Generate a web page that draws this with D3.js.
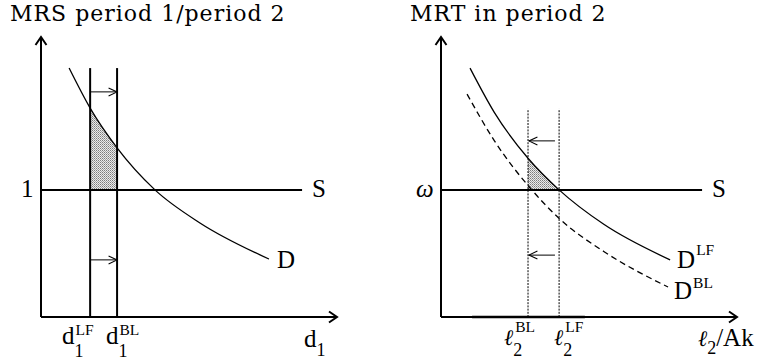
<!DOCTYPE html>
<html>
<head>
<meta charset="utf-8">
<title>MRS / MRT</title>
<script src="https://d3js.org/d3.v7.min.js"></script>
<style>
  body { margin: 0; background: #fff; }
  svg text { font-family: "Liberation Serif", "Times New Roman", serif; fill: #000; }
  svg text.title { font-family: "DejaVu Serif", serif; }
  svg text.ell { font-family: "DejaVu Serif", serif; font-style: italic; }
</style>
</head>
<body>
<script>
// data units: both axes run 0..100
var demandLeft = [[9.5, 88.9], [16.6, 74.6], [25.7, 60.4], [38.5, 45.4], [53.7, 33.6], [77.0, 20.7]];
var demandLF = [[9.8, 88.9], [18, 73.1], [29.4, 56.7], [39.9, 45.4], [55, 33.1], [77.4, 20.4]];
var demandBL = [[8.8, 79.6], [18, 63.0], [31, 45.0], [39.9, 35.2], [55, 23.4], [76.7, 10.7]];
var supplyLevel = 45.4, supplyEnd = 88.2;
var leftCuts = [16.6, 25.7], leftCutTop = 88.9;     // d1 LF, d1 BL
var rightCuts = [29.4, 39.9], rightCutTop = 74.3;   // l2 BL, l2 LF
var leftArrows = [80.4, 20.4];
var rightArrows = [62.9, 22.1];
var titles = ["MRS period 1/period 2", "MRT in period 2"];

var width = 771, height = 362;
var svg = d3.select("body").append("svg")
    .attr("width", width).attr("height", height);

var defs = svg.append("defs");
var pat = defs.append("pattern").attr("id", "dots")
    .attr("width", 2).attr("height", 2).attr("patternUnits", "userSpaceOnUse");
pat.append("rect").attr("width", 2).attr("height", 2).attr("fill", "#ebebeb");
pat.append("rect").attr("width", 1).attr("height", 1).attr("fill", "#7c7c7c");
pat.append("rect").attr("x", 1).attr("y", 1).attr("width", 1).attr("height", 1).attr("fill", "#a4a4a4");

// small open arrow head
defs.append("marker").attr("id", "head")
    .attr("viewBox", "0 0 10 10").attr("refX", 9.5).attr("refY", 5)
    .attr("markerWidth", 10).attr("markerHeight", 10).attr("markerUnits", "userSpaceOnUse")
    .attr("orient", "auto")
  .append("path").attr("d", "M1,1 L9.5,5 L1,9")
    .attr("fill", "none").attr("stroke", "#000").attr("stroke-width", 1.1);

// axis arrow head
defs.append("marker").attr("id", "axhead")
    .attr("viewBox", "0 0 14 14").attr("refX", 12).attr("refY", 7)
    .attr("markerWidth", 14).attr("markerHeight", 14).attr("markerUnits", "userSpaceOnUse")
    .attr("orient", "auto")
  .append("path").attr("d", "M4,1.5 L12,7 L4,12.5")
    .attr("fill", "none").attr("stroke", "#000").attr("stroke-width", 2);

var curve = d3.curveMonotoneX;

function panel(x0, id) {
  var g = svg.append("g");
  var x = d3.scaleLinear().domain([0, 100]).range([x0, x0 + 296]);
  var y = d3.scaleLinear().domain([0, 100]).range([317, 37]);
  var line = d3.line().curve(curve).x(function(d) { return x(d[0]); }).y(function(d) { return y(d[1]); });
  var area = d3.area().curve(curve).x(function(d) { return x(d[0]); })
      .y0(y(supplyLevel)).y1(function(d) { return y(d[1]); });
  return { g: g, x: x, y: y, line: line, area: area, id: id };
}

function seg(p, x1, y1, x2, y2, w) {
  return p.g.append("line")
    .attr("x1", p.x(x1)).attr("y1", p.y(y1)).attr("x2", p.x(x2)).attr("y2", p.y(y2))
    .attr("stroke", "#000").attr("stroke-width", w);
}

function shade(p, data, cuts) {
  defs.append("clipPath").attr("id", "clip" + p.id)
    .append("rect").attr("x", p.x(cuts[0])).attr("width", p.x(cuts[1]) - p.x(cuts[0]))
    .attr("y", 0).attr("height", p.y(supplyLevel));
  p.g.append("path").attr("d", p.area(data)).attr("fill", "url(#dots)")
    .attr("clip-path", "url(#clip" + p.id + ")");
}

function axes(p) {
  seg(p, 0, 0, 0, 100, 2).attr("marker-end", "url(#axhead)");
  seg(p, 0, 0, 100, 0, 2).attr("marker-end", "url(#axhead)");
  seg(p, 0, supplyLevel, supplyEnd, supplyLevel, 2);
}

// text with optional sub / superscript; returns right edge
function label(px, py, base, sub, sup, o) {
  o = o || {};
  var size = o.size || 25;
  var t = svg.append("text").attr("x", px).attr("y", py).attr("font-size", size)
      .attr("class", o.cls || null).text(base);
  var w = t.node().getComputedTextLength();
  var right = px + w;
  if (sub) {
    var s = svg.append("text").attr("x", px + w + (o.subDx || 0)).attr("y", py + (o.subDy || 10))
      .attr("font-size", 18).text(sub);
    right = Math.max(right, px + w + (o.subDx || 0) + s.node().getComputedTextLength());
  }
  if (sup) svg.append("text").attr("x", px + w + (o.supDx || 1)).attr("y", py + (o.supDy || -11))
      .attr("font-size", 15.5).text(sup);
  return right;
}

// ---- left: MRS ----
var L = panel(41, "L");
shade(L, demandLeft, leftCuts);
axes(L);
leftCuts.forEach(function(c) { seg(L, c, 0, c, leftCutTop, 2); });
L.g.append("path").attr("d", L.line(demandLeft)).attr("fill", "none")
  .attr("stroke", "#000").attr("stroke-width", 1.3);
leftArrows.forEach(function(a) {
  seg(L, leftCuts[0], a, leftCuts[1], a, 1).attr("marker-end", "url(#head)");
});
svg.append("text").attr("class", "title").attr("x", 10).attr("y", 21).attr("font-size", 22)
  .attr("letter-spacing", 1).text(titles[0]);
svg.append("text").attr("x", 21).attr("y", 197).attr("font-size", 25).text("1");
svg.append("text").attr("x", L.x(supplyEnd) + 10).attr("y", 197).attr("font-size", 25).text("S");
svg.append("text").attr("x", L.x(demandLeft[5][0]) + 8).attr("y", 268).attr("font-size", 25).text("D");
label(62, 344, "d", "1", "LF", { subDy: 13, supDy: -9 });
label(106, 344, "d", "1", "BL", { subDy: 13, supDy: -9 });
label(304, 347, "d", "1", null, { subDy: 9 });

// ---- right: MRT ----
var R = panel(441, "R");
shade(R, demandLF, rightCuts);
axes(R);
seg(R, 10.5, 0, 48.6, 0, 2.7);
rightCuts.forEach(function(c) {
  seg(R, c, 0, c, rightCutTop, 1).attr("stroke-dasharray", "2,1.2");
});
R.g.append("path").attr("d", R.line(demandLF)).attr("fill", "none")
  .attr("stroke", "#000").attr("stroke-width", 1.3);
R.g.append("path").attr("d", R.line(demandBL)).attr("fill", "none")
  .attr("stroke", "#000").attr("stroke-width", 1.3).attr("stroke-dasharray", "6,4");
rightArrows.forEach(function(a) {
  seg(R, 38.5, a, rightCuts[0] + 0.3, a, 1).attr("marker-end", "url(#head)");
});
svg.append("text").attr("class", "title").attr("x", 410).attr("y", 21).attr("font-size", 22)
  .attr("letter-spacing", 1).text(titles[1]);
svg.append("text").attr("x", 416).attr("y", 197).attr("font-size", 25)
  .attr("font-style", "italic").text("ω");
svg.append("text").attr("x", R.x(supplyEnd) + 10).attr("y", 197).attr("font-size", 25).text("S");
label(R.x(demandLF[5][0]) + 7, 268, "D", null, "LF", { supDy: -13 });
label(R.x(demandBL[5][0]) + 6, 299, "D", null, "BL", { supDy: -11 });
label(504, 345, "ℓ", "2", "BL", { cls: "ell", size: 22, subDy: 11, supDy: -13, supDx: 2 });
label(554, 345, "ℓ", "2", "LF", { cls: "ell", size: 22, subDy: 11, supDy: -13, supDx: 2 });
var r = label(698, 346, "ℓ", "2", null, { cls: "ell", size: 22, subDy: 8 });
svg.append("text").attr("x", r).attr("y", 346).attr("font-size", 25).text("/Ak");
</script>
</body>
</html>
